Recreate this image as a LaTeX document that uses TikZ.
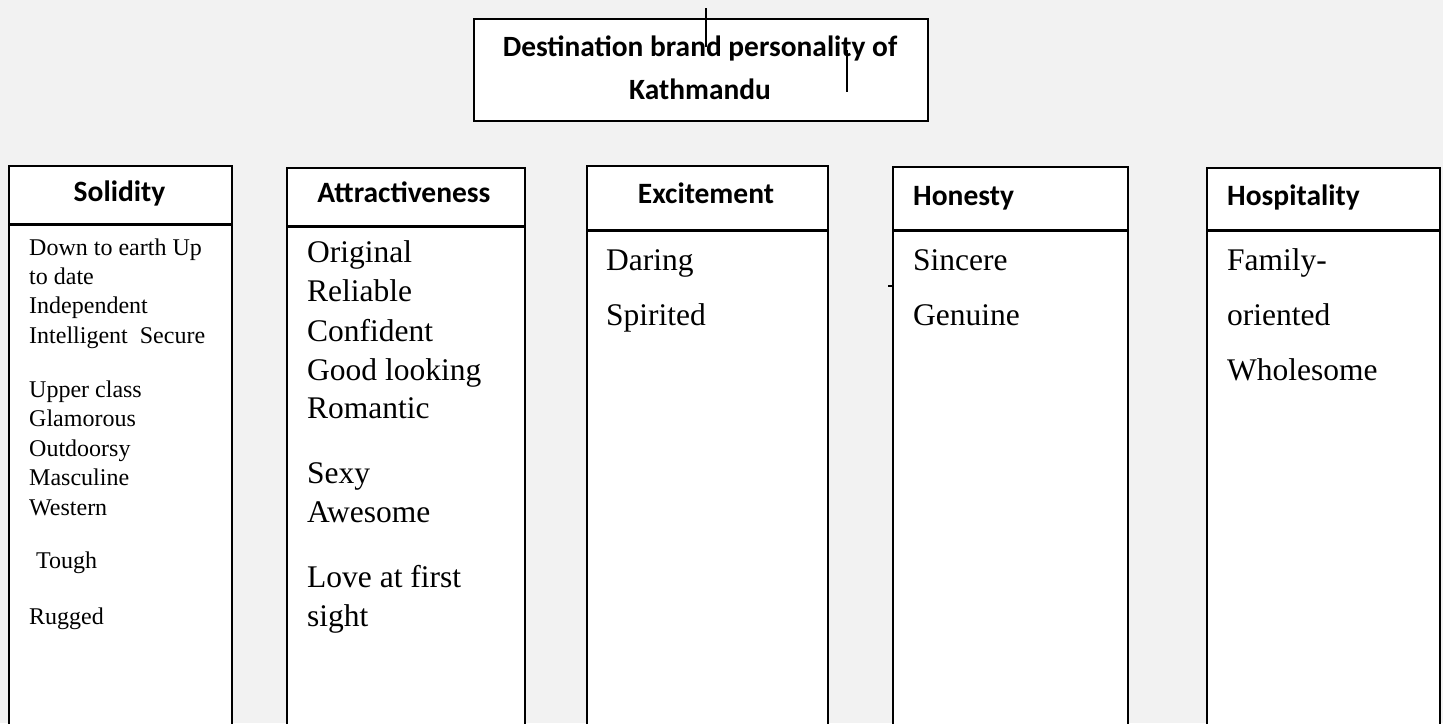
\documentclass[tikz,border=0pt]{standalone}
\usepackage{fontspec}
\setmainfont{Liberation Serif}
\newfontfamily\headfont{Carlito}
\usetikzlibrary{positioning}
\definecolor{page-bg}{HTML}{F2F2F2}
\definecolor{box-line}{HTML}{000000}
\tikzset{
  framebox/.style={
    draw=box-line, fill=white, line width=1.6pt, inner sep=0pt, anchor=north west
  },
  rule/.style={draw=box-line, line width=2.6pt},
  tick/.style={draw=box-line, line width=1.2pt},
  headtxt/.style={font=\headfont\bfseries\fontsize{29.5}{34}\selectfont, inner sep=0pt, anchor=base},
  titletxt/.style={font=\headfont\bfseries\fontsize{29.4}{34}\selectfont, inner sep=0pt, anchor=base},
  itemsm/.style={font=\fontsize{24}{29}\selectfont, inner sep=0pt, anchor=base west},
  itemlg/.style={font=\fontsize{31.5}{38}\selectfont, inner sep=0pt, anchor=base west}
}

\begin{document}
\begin{tikzpicture}[x=1pt, y=-1pt]

  % ---- canvas --------------------------------------------------------------
  \clip (0,0) rectangle (1443,723);
  \fill[page-bg] (0,0) rectangle (1443,723);

  % ---- title box -----------------------------------------------------------
  \node[framebox, minimum width=454, minimum height=102] (title) at (473,18) {};
  \node[titletxt] (t1) at (700,56.7) {Destination brand personality of};
  \node[titletxt] (t2) at (700,99) {Kathmandu};
  \coordinate (c1a) at (706,8);
  \coordinate (c1b) at (706,47);
  \coordinate (c2a) at (847,50);
  \coordinate (c2b) at (847,92);
  \draw[tick] (c1a) -- (c1b);
  \draw[tick] (c2a) -- (c2b);

  % ---- Solidity ------------------------------------------------------------
  \node[framebox, minimum width=223, minimum height=600] (sb) at (8,223) {};
  \node[framebox, minimum width=223, minimum height=58] (sh) at (8,165) {};
  \draw[rule] (sh.south west) -- (sh.south east);
  \node[headtxt] (sl) at (119.5,201.7) {Solidity};
  \node[itemsm] (s1) at (29,255) {Down to earth Up};
  \node[itemsm] (s2) at (29,284.3) {to date};
  \node[itemsm] (s3) at (29,313.3) {Independent};
  \node[itemsm] (s4) at (29,343.3) {Intelligent\ \ Secure};
  \node[itemsm] (s5) at (29,397.3) {Upper class};
  \node[itemsm] (s6) at (29,426.7) {Glamorous};
  \node[itemsm] (s7) at (29,456.7) {Outdoorsy};
  \node[itemsm] (s8) at (29,485) {Masculine};
  \node[itemsm] (s9) at (29,515) {Western};
  \node[itemsm] (s10) at (36,568.3) {Tough};
  \node[itemsm] (s11) at (29,624) {Rugged};

  % ---- Attractiveness ------------------------------------------------------
  \node[framebox, minimum width=238, minimum height=600] (ab) at (286,225) {};
  \node[framebox, minimum width=238, minimum height=58] (ah) at (286,167) {};
  \draw[rule] (ah.south west) -- (ah.south east);
  \node[headtxt] (al) at (404,202.7) {Attractiveness};
  \node[itemlg] (a1) at (307,262.7) {Original};
  \node[itemlg] (a2) at (307,301.7) {Reliable};
  \node[itemlg] (a3) at (307,341.7) {Confident};
  \node[itemlg] (a4) at (307,380) {Good looking};
  \node[itemlg] (a5) at (307,418.3) {Romantic};
  \node[itemlg] (a6) at (307,483.3) {Sexy};
  \node[itemlg] (a7) at (307,522.7) {Awesome};
  \node[itemlg] (a8) at (307,587.7) {Love at first};
  \node[itemlg] (a9) at (307,626.7) {sight};

  % ---- Excitement ----------------------------------------------------------
  \node[framebox, minimum width=241, minimum height=600] (eb) at (586,229) {};
  \node[framebox, minimum width=241, minimum height=64] (eh) at (586,165) {};
  \draw[rule] (eh.south west) -- (eh.south east);
  \node[headtxt] (el) at (706,203.3) {Excitement};
  \node[itemlg] (e1) at (606,270) {Daring};
  \node[itemlg] (e2) at (606,325) {Spirited};

  % ---- Honesty -------------------------------------------------------------
  \node[framebox, minimum width=235, minimum height=600] (hb) at (892,229) {};
  \node[framebox, minimum width=235, minimum height=63] (hh) at (892,166) {};
  \draw[rule] (hh.south west) -- (hh.south east);
  \node[headtxt, anchor=base west] (hl) at (913,205) {Honesty};
  \node[itemlg] (h1) at (913,270) {Sincere};
  \node[itemlg] (h2) at (913,325.7) {Genuine};
  \coordinate (m1) at (888,286);
  \coordinate (m2) at (892,286);
  \draw[tick] (m1) -- (m2);

  % ---- Hospitality ---------------------------------------------------------
  \node[framebox, minimum width=233, minimum height=600] (pb) at (1206,229) {};
  \node[framebox, minimum width=233, minimum height=62] (ph) at (1206,167) {};
  \draw[rule] (ph.south west) -- (ph.south east);
  \node[headtxt, anchor=base west] (pl) at (1227,205) {Hospitality};
  \node[itemlg] (p1) at (1227,270) {Family-};
  \node[itemlg] (p2) at (1227,325.7) {oriented};
  \node[itemlg] (p3) at (1227,380.7) {Wholesome};

\end{tikzpicture}
\end{document}
